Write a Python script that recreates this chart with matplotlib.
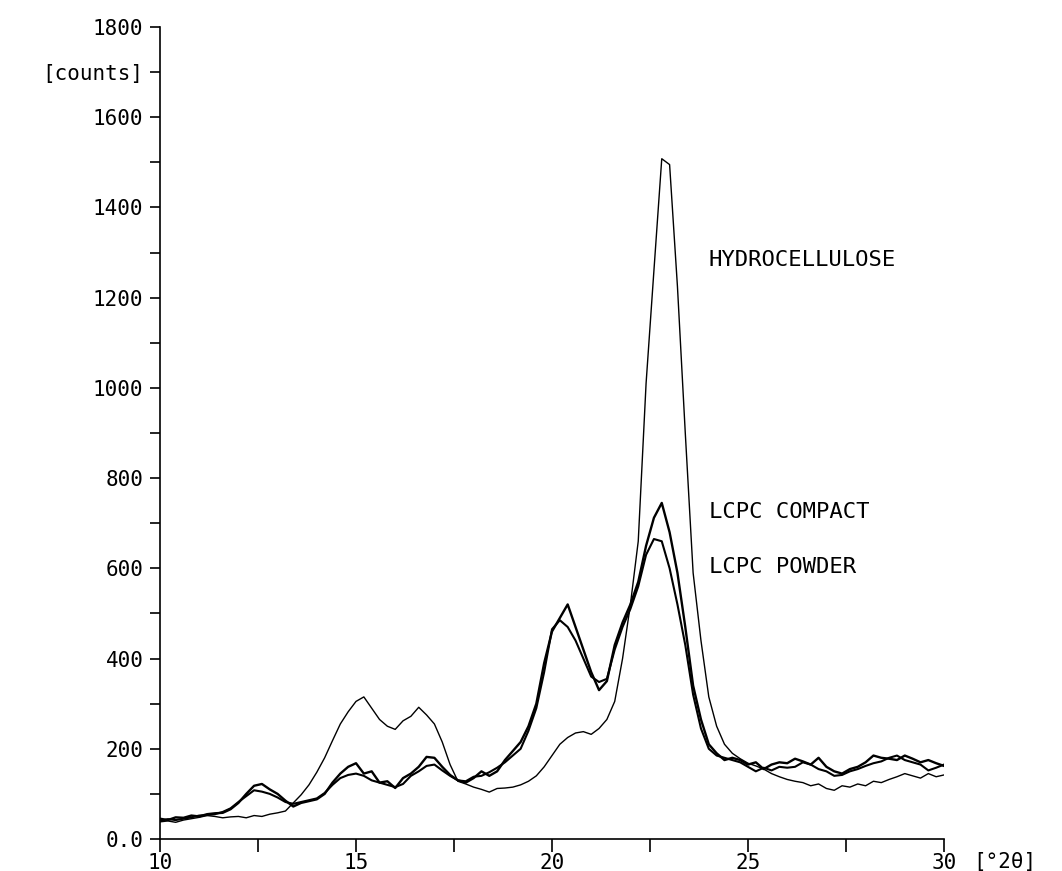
import matplotlib
matplotlib.use('Agg')
import matplotlib.pyplot as plt
import numpy as np

# scan grid, degrees 2 theta
two_theta = np.round(np.arange(10.0, 30.01, 0.2), 1)

hydrocellulose = [38, 40, 37, 42, 45, 48, 52, 50, 47, 49,
                  50, 47, 52, 50, 55, 58, 62, 80, 98, 120,
                  148, 180, 218, 255, 282, 305, 315, 290, 265, 250,
                  243, 262, 272, 292, 275, 255, 215, 165, 128, 122,
                  115, 110, 104, 112, 113, 115, 120, 128, 140, 160,
                  185, 210, 225, 235, 238, 232, 245, 265, 305, 400,
                  520, 660, 1010, 1260, 1508, 1495, 1225, 900, 590, 440,
                  315, 250, 210, 190, 178, 168, 162, 155, 145, 138,
                  132, 128, 125, 118, 122, 112, 108, 118, 115, 122,
                  118, 128, 125, 132, 138, 145, 140, 135, 145, 138,
                  142]

lcpc_compact = [45, 42, 48, 47, 52, 50, 55, 57, 58, 66,
                80, 100, 118, 122, 110, 100, 85, 72, 80, 84,
                88, 100, 125, 145, 160, 168, 145, 150, 125, 128,
                113, 135, 145, 160, 182, 180, 160, 142, 130, 125,
                135, 150, 140, 150, 175, 195, 215, 250, 300, 390,
                460, 490, 520, 470, 420, 370, 330, 350, 430, 480,
                520, 570, 650, 712, 745, 680, 590, 470, 340, 265,
                210, 190, 175, 180, 175, 165, 170, 155, 165, 170,
                168, 178, 172, 165, 180, 160, 150, 145, 155, 160,
                170, 185, 180, 178, 175, 185, 178, 170, 175, 168,
                162]

lcpc_powder = [40, 44, 42, 45, 48, 52, 53, 55, 60, 68,
               82, 95, 108, 105, 100, 92, 82, 78, 82, 86,
               90, 102, 120, 135, 142, 145, 140, 130, 125, 120,
               115, 122, 140, 150, 162, 165, 152, 140, 130, 128,
               138, 140, 148, 158, 170, 185, 200, 240, 290, 370,
               465, 485, 470, 440, 400, 360, 348, 355, 420, 470,
               510, 560, 630, 665, 660, 600, 520, 430, 320, 245,
               200, 185, 180, 175, 170, 160, 150, 158, 152, 160,
               158, 160, 170, 165, 155, 150, 140, 142, 150, 155,
               162, 168, 172, 180, 185, 175, 170, 165, 152, 158,
               165]

series_labels = ['HYDROCELLULOSE', 'LCPC COMPACT', 'LCPC POWDER']
label_pos = [(24.0, 1283), (24.0, 725), (24.0, 603)]

y_ticks = np.arange(0, 1801, 100)
y_ticklabels = ['0.0' if v == 0 else (str(v) if v % 200 == 0 else '') for v in y_ticks]
y_ticklabels[17] = '[counts]'
x_ticks = [10, 12.5, 15, 17.5, 20, 22.5, 25, 27.5, 30]
x_ticklabels = ['10', '', '15', '', '20', '', '25', '', '30']

font = 'DejaVu Sans Mono'
fig = plt.figure(figsize=(10.62, 8.71), dpi=100)
ax = fig.add_axes([160 / 1062, 32 / 871, 784 / 1062, 812 / 871])

ax.plot(two_theta, hydrocellulose, color='black', lw=1.0)
ax.plot(two_theta, lcpc_compact, color='black', lw=1.7)
ax.plot(two_theta, lcpc_powder, color='black', lw=1.5)

ax.set_xlim(10, 30)
ax.set_ylim(0, 1800)
for s in ['top', 'right']:
    ax.spines[s].set_visible(False)
for s in ['left', 'bottom']:
    ax.spines[s].set_linewidth(1.2)

ax.set_yticks(y_ticks)
ax.set_yticklabels(y_ticklabels, fontfamily=font, fontsize=15)
ax.set_xticks(x_ticks)
ax.set_xticklabels(x_ticklabels, fontfamily=font, fontsize=15)
ax.tick_params(axis='y', direction='out', length=7, width=1.2, pad=5)
ax.tick_params(axis='x', direction='out', length=9, width=1.2, pad=1)

ax.text(30.75, -0.016, '[°2θ]', transform=ax.get_xaxis_transform(),
        ha='left', va='top', fontfamily=font, fontsize=15, clip_on=False)

for lab, (lx, ly) in zip(series_labels, label_pos):
    ax.text(lx, ly, lab, ha='left', va='center', fontfamily=font, fontsize=16)

fig.savefig('out.png', dpi=100, facecolor='white')
